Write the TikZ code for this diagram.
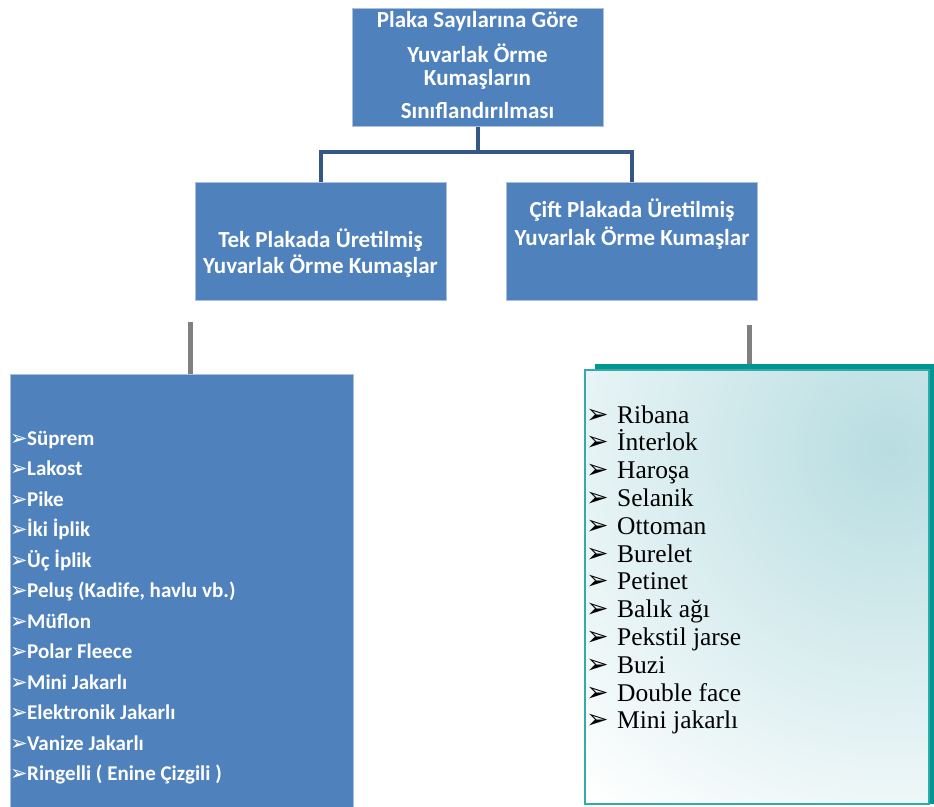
\documentclass[tikz,border=0pt]{standalone}
\usepackage{fontspec}
\setmainfont{Carlito}
\newfontfamily\serif{Liberation Serif}
\newfontfamily\sym{DejaVu Sans}
\usetikzlibrary{positioning}

\definecolor{boxblue}{RGB}{79,129,189}
\definecolor{edgeblue}{RGB}{170,192,220}
\definecolor{linkblue}{RGB}{52,88,130}
\definecolor{teal1}{RGB}{0,150,148}
\definecolor{tealbg}{RGB}{184,221,225}

\tikzstyle{blk} = [rectangle, draw=edgeblue, line width=1pt, fill=boxblue, inner sep=0pt, minimum width=251pt, minimum height=118pt]
\tikzstyle{hd} = [anchor=base, inner sep=0pt, text=white, font=\fontsize{23}{23}\selectfont\bfseries]
\tikzstyle{item} = [anchor=base west, text=white, inner sep=0pt, font=\fontsize{21}{21}\selectfont\bfseries]
\tikzstyle{ritem} = [anchor=base west, inner sep=0pt, font=\fontsize{25.5}{26}\selectfont\serif]
\tikzstyle{link} = [draw=linkblue, line width=4pt]
\tikzstyle{stub} = [draw=gray, line width=5pt]

\begin{document}
\begin{tikzpicture}[x=1pt,y=-1pt]
    \useasboundingbox (0,0) rectangle (934,806);
    % top level
    \node (top) [blk] at (477.5,67) {};
    \foreach \t/\y [count=\i] in {Plaka Sayılarına Göre/27, Yuvarlak Örme/62, Kumaşların/85, Sınıflandırılması/118}
        \node (top\i) [hd] at (477.5,\y) {\t};
    % second level
    \node (tek) [blk] at (320.5,241) {};
    \node (tek1) [hd] at (320.5,247) {Tek Plakada Üretilmiş};
    \node (tek2) [hd] at (320.5,273) {Yuvarlak Örme Kumaşlar};
    \node (cift) [blk] at (632,241) {};
    \node (cift1) [hd] at (632,217) {Çift Plakada Üretilmiş};
    \node (cift2) [hd] at (632,245) {Yuvarlak Örme Kumaşlar};
    \coordinate (bus) at (477.5,152);
    \draw [link] (top.south) -- (bus);
    \draw [link] (bus) -| (tek.north);
    \draw [link] (bus) -| (cift.north);

    % single bed list
    \node (tekl) [rectangle, fill=boxblue, draw=edgeblue, line width=1pt, minimum width=343pt, minimum height=440pt, anchor=north west, inner sep=0pt] at (10,374) {};
    \coordinate (s1) at (190,322);
    \draw [stub] (s1) -- (s1 |- tekl.north);
    \foreach \t [count=\i from 0] in {Süprem, Lakost, Pike, İki İplik, Üç İplik, {Peluş (Kadife, havlu vb.)}, Müflon, Polar Fleece, Mini Jakarlı, Elektronik Jakarlı, Vanize Jakarlı, {Ringelli ( Enine Çizgili )}}
        \node (t\i) [item] at (10,445+30.5*\i) {\makebox[17pt][l]{\sym\fontsize{21}{21}\selectfont ➢}\t};

    % double bed list
    \node (ciftbg) [rectangle, fill=teal1, minimum width=339pt, minimum height=440pt, anchor=north west, inner sep=0pt] at (595,364) {};
    \node (ciftl) [rectangle, draw=teal1!80, line width=1.5pt, fill=white, minimum width=344pt, minimum height=434pt, anchor=north west, inner sep=0pt,
        path picture={\shade [inner color=tealbg, outer color=white] (path picture bounding box.north east) ++(-40,80) circle (460);}] at (584,369) {};
    \coordinate (s2) at (749,325);
    \draw [stub] (s2) -- (s2 |- ciftbg.north);
    \foreach \t [count=\i from 0] in {Ribana, İnterlok, Haroşa, Selanik, Ottoman, Burelet, Petinet, Balık ağı, Pekstil jarse, Buzi, Double face, Mini jakarlı}
        \node (c\i) [ritem] at (586,423+27.8*\i) {\makebox[31pt][l]{\sym\fontsize{27}{27}\selectfont ➢}\t};
\end{tikzpicture}
\end{document}
